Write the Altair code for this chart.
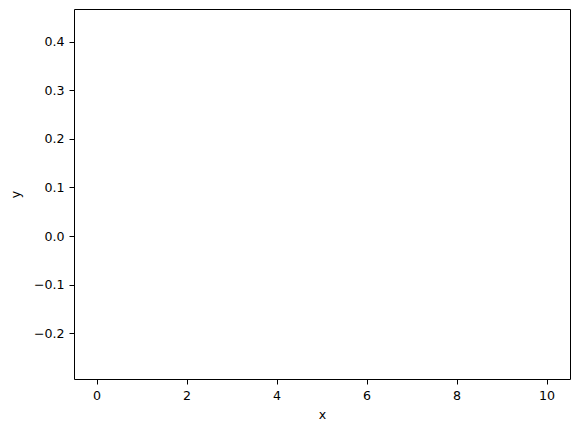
import altair as alt

# Reference plot contains no visible data: empty series
x_values = []
y_values = []

x_domain = [-0.5, 10.52]
y_domain = [-0.294, 0.467]
x_ticks = [0, 2, 4, 6, 8, 10]
y_ticks = [-0.2, -0.1, 0.0, 0.1, 0.2, 0.3, 0.4]

records = [{"x": a, "y": b} for a, b in zip(x_values, y_values)]
data = alt.Data(values=records)

font = "DejaVu Sans"

chart = alt.Chart(data).mark_line(color="#1f77b4").encode(
    x=alt.X("x:Q", scale=alt.Scale(domain=x_domain, nice=False, zero=False),
            axis=alt.Axis(values=x_ticks, format="d", title="x")),
    y=alt.Y("y:Q", scale=alt.Scale(domain=y_domain, nice=False, zero=False),
            axis=alt.Axis(values=y_ticks, format=".1f", title="y")),
).properties(
    width=496, height=370,
    autosize=alt.AutoSizeParams(type="none"),
    padding={"left": 66, "top": 1, "right": 1, "bottom": 45},
).configure_view(
    stroke="black", strokeWidth=1
).configure_axis(
    grid=False, domain=False,
    tickColor="black", tickSize=5, tickWidth=1,
    labelColor="black", labelFont=font, labelFontSize=12.6, labelPadding=5,
    titleColor="black", titleFont=font, titleFontSize=12.6, titleFontWeight="normal",
) .configure_axisX(
    titlePadding=7
).configure_axisY(
    titlePadding=11
)

chart.save("out.html", embed_options={"renderer": "svg", "actions": False})
